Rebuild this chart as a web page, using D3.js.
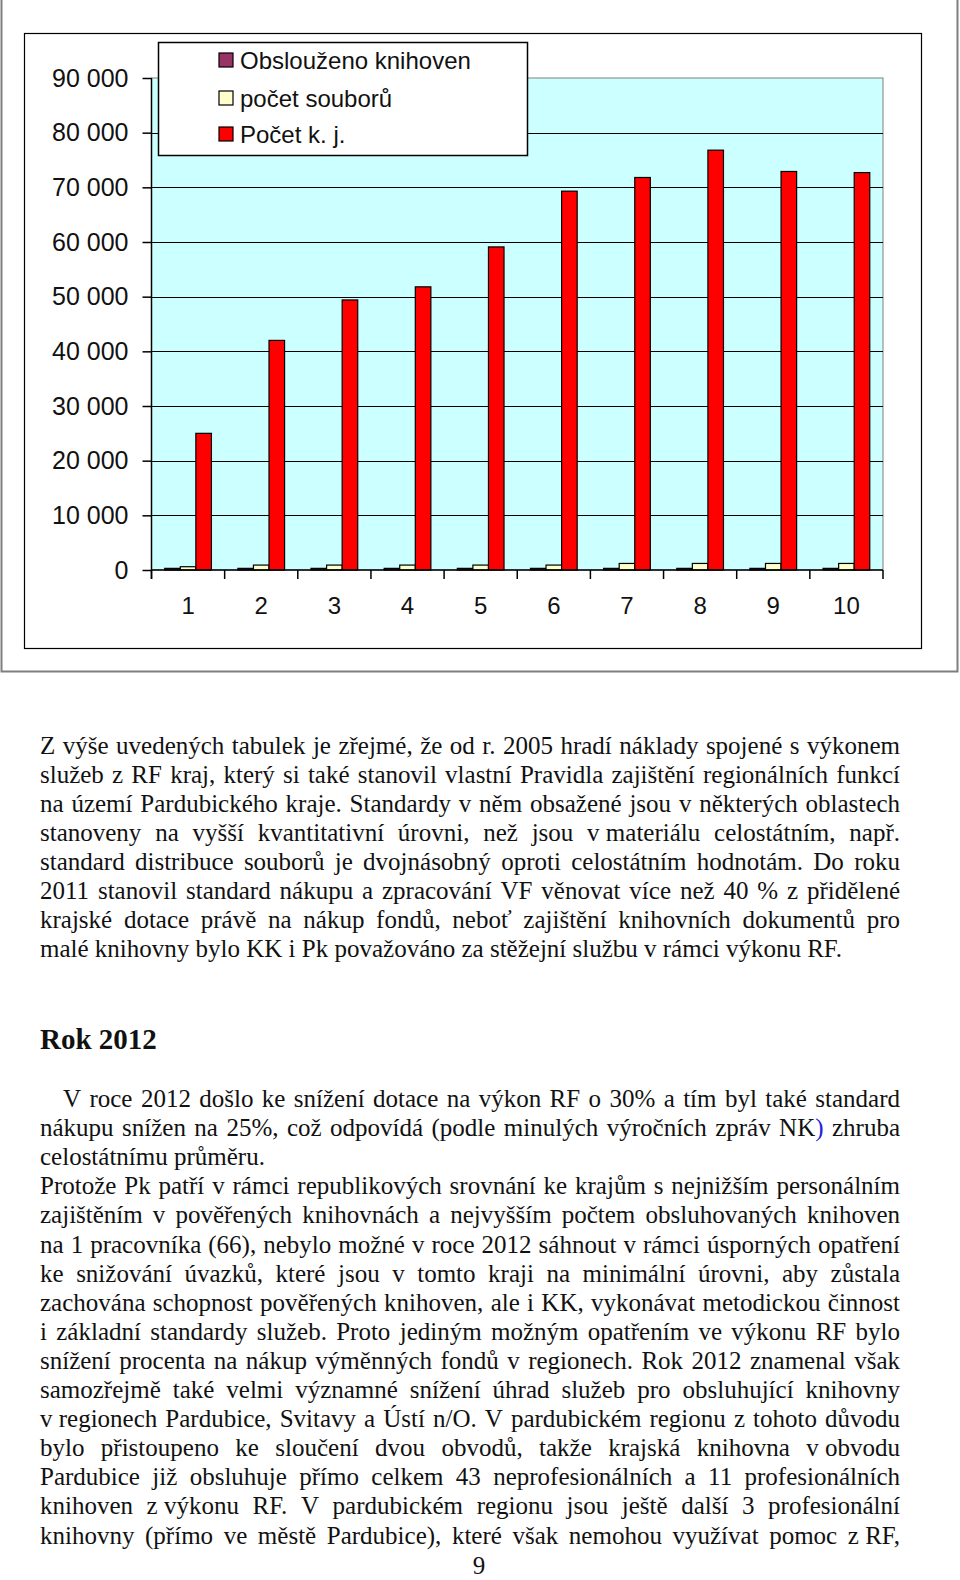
<!DOCTYPE html>
<html><head><meta charset="utf-8">
<script src="https://cdn.jsdelivr.net/npm/d3@7"></script>
<style>body{margin:0;background:#fff}svg{display:block}</style>
</head><body>
<svg id="page" width="960" height="1580"></svg>
<script>
// ---------- DATA ----------
const categories = ["1","2","3","4","5","6","7","8","9","10"];
const seriesNames = ["Obslouženo knihoven","počet souborů","Počet k. j."];
const seriesColors = ["#993366","#FFFFCC","#FF0000"];
const obslouzenoKnihoven = [300,300,300,300,300,300,300,300,300,300];
const pocetSouboru = [600,900,900,900,900,900,1200,1200,1200,1200];
const pocetKJ = [25000,42000,49400,51800,59100,69300,71800,76800,72900,72700];
const yTicks = [0,10000,20000,30000,40000,50000,60000,70000,80000,90000];

const para1 = [
 "Z výše uvedených tabulek je zřejmé, že od r. 2005 hradí náklady spojené s výkonem",
 "služeb z RF kraj, který si také stanovil vlastní Pravidla zajištění regionálních funkcí",
 "na území Pardubického kraje. Standardy v něm obsažené jsou v některých oblastech",
 "stanoveny na vyšší kvantitativní úrovni, než jsou v\u00A0materiálu celostátním, např.",
 "standard distribuce souborů je dvojnásobný oproti celostátním hodnotám. Do roku",
 "2011 stanovil standard nákupu a zpracování VF věnovat více než 40 % z přidělené",
 "krajské dotace právě na nákup fondů, neboť zajištění knihovních dokumentů pro",
 "malé knihovny bylo KK i Pk považováno za stěžejní službu v rámci výkonu RF."
];
const heading = "Rok 2012";
const para2 = [
 "V roce 2012 došlo ke snížení dotace na výkon RF o 30% a tím byl také standard",
 "nákupu snížen na 25%, což odpovídá (podle minulých výročních zpráv NK) zhruba",
 "celostátnímu průměru.",
 "Protože Pk patří v rámci republikových srovnání ke krajům s nejnižším personálním",
 "zajištěním v pověřených knihovnách a nejvyšším počtem obsluhovaných knihoven",
 "na 1 pracovníka (66), nebylo možné v roce 2012 sáhnout v rámci úsporných opatření",
 "ke snižování úvazků, které jsou v tomto kraji na minimální úrovni, aby zůstala",
 "zachována schopnost pověřených knihoven, ale i KK, vykonávat metodickou činnost",
 "i základní standardy služeb. Proto jediným možným opatřením ve výkonu RF bylo",
 "snížení procenta na nákup výměnných fondů v regionech. Rok 2012 znamenal však",
 "samozřejmě také velmi významné snížení úhrad služeb pro obsluhující knihovny",
 "v\u00A0regionech Pardubice, Svitavy a Ústí n/O. V pardubickém regionu z tohoto důvodu",
 "bylo přistoupeno ke sloučení dvou obvodů, takže krajská knihovna v\u00A0obvodu",
 "Pardubice již obsluhuje přímo celkem 43 neprofesionálních a 11 profesionálních",
 "knihoven z\u00A0výkonu RF. V pardubickém regionu jsou ještě další 3 profesionální",
 "knihovny (přímo ve městě Pardubice), které však nemohou využívat pomoc z\u00A0RF,"
];
const para1Last = [7];
const para2Last = [2];
const pageNumber = "9";

// ---------- CHART ----------
const svg = d3.select("#page");
const sans = "'Liberation Sans', Arial, sans-serif";
const serif = "'Liberation Serif', 'Times New Roman', serif";

// outer frame
svg.append("path").attr("d","M1.5,0 V671.5 H957.5 V0")
  .attr("fill","none").attr("stroke","#7f7f7f").attr("stroke-width",2);
// chart area
svg.append("rect").attr("x",24.5).attr("y",33.5).attr("width",897).attr("height",615)
  .attr("fill","#fff").attr("stroke","#000").attr("stroke-width",1.2);

const plot = {l:151.5, r:883, t:78, b:570};
const x = d3.scaleBand().domain(categories).range([plot.l, plot.r]).padding(0);
const xs = d3.scaleBand().domain(seriesNames).range([0, x.bandwidth()]).paddingInner(0).paddingOuter(0.85);
const y = d3.scaleLinear().domain([0, 90000]).range([plot.b, plot.t]);

svg.append("rect").attr("x",plot.l).attr("y",plot.t).attr("width",plot.r-plot.l).attr("height",plot.b-plot.t)
  .attr("fill","#CCFFFF").attr("stroke","#808080").attr("stroke-width",1);

// gridlines
svg.append("g").selectAll("line").data(yTicks.filter(d=>d>0 && d<90000)).join("line")
  .attr("x1",plot.l).attr("x2",plot.r).attr("y1",d=>Math.round(y(d))+0.5).attr("y2",d=>Math.round(y(d))+0.5)
  .attr("stroke","#000").attr("stroke-width",1);

// bars
const seriesData = [obslouzenoKnihoven, pocetSouboru, pocetKJ];
seriesNames.forEach((s, si) => {
  svg.append("g").selectAll("rect").data(categories).join("rect")
    .attr("x", (c)=> x(c) + xs(s))
    .attr("width", xs.bandwidth())
    .attr("y", (c,i)=> y(seriesData[si][i]))
    .attr("height", (c,i)=> plot.b - y(seriesData[si][i]))
    .attr("fill", seriesColors[si]).attr("stroke","#000").attr("stroke-width",1.2);
});

// y axis
const fmt = v => d3.format(",")(v).replace(/,/g, " ");
const yAxis = svg.append("g").attr("transform",`translate(${plot.l},0)`)
  .call(d3.axisLeft(y).tickValues(yTicks).tickSize(9).tickPadding(14).tickFormat(fmt));
yAxis.select(".domain").remove();
yAxis.selectAll(".tick line").attr("stroke","#000").attr("stroke-width",1.5);
yAxis.selectAll("text").attr("font-family",sans).attr("font-size",25).attr("fill","#111");
svg.append("line").attr("x1",plot.l).attr("x2",plot.l).attr("y1",plot.t).attr("y2",plot.b+9)
  .attr("stroke","#000").attr("stroke-width",1.5);

// x axis
const xAxis = svg.append("g").attr("transform",`translate(0,${plot.b})`)
  .call(d3.axisBottom(x).tickSize(0).tickPadding(27));
xAxis.select(".domain").remove();
xAxis.selectAll("text").attr("font-family",sans).attr("font-size",24).attr("fill","#111");
svg.append("line").attr("x1",plot.l).attr("x2",plot.r).attr("y1",plot.b).attr("y2",plot.b)
  .attr("stroke","#000").attr("stroke-width",1.5);
const bounds = categories.map(c=>x(c)).concat([x(categories[categories.length-1])+x.step()]);
svg.append("g").selectAll("line").data(bounds).join("line")
  .attr("x1",d=>d).attr("x2",d=>d).attr("y1",plot.b).attr("y2",plot.b+9)
  .attr("stroke","#000").attr("stroke-width",1.5);

// legend
const lg = svg.append("g");
lg.append("rect").attr("x",158.5).attr("y",42.5).attr("width",369).attr("height",113)
  .attr("fill","#fff").attr("stroke","#000").attr("stroke-width",1.5);
const legendRows = [60, 98, 134];
seriesNames.forEach((s,i)=>{
  lg.append("rect").attr("x",219).attr("y",legendRows[i]-7).attr("width",14).attr("height",14)
    .attr("fill",seriesColors[i]).attr("stroke","#000").attr("stroke-width",1.2);
  lg.append("text").attr("x",240).attr("y",legendRows[i]+8.5).text(s)
    .attr("font-family",sans).attr("font-size",24).attr("fill","#111");
});

// ---------- TEXT ----------
const tg = svg.append("g").attr("font-family",serif).attr("font-size",25).attr("fill","#111");
const TL = 40, TR = 900;
function measure(str){
  const t = tg.append("text").text(str);
  const w = t.node().getComputedTextLength(); t.remove(); return w;
}
function token(g, tok, xx, yy){
  const t = g.append("text").attr("x",xx).attr("y",yy);
  if (tok === "NK)") { t.append("tspan").text("NK"); t.append("tspan").attr("fill","#2222dd").text(")"); }
  else t.text(tok);
}
function line(str, yy, justify, indent){
  const x0 = TL + (indent||0);
  if (!justify) { tg.append("text").attr("x",x0).attr("y",yy).text(str); return; }
  const toks = str.split(" ").filter(s=>s.length);
  const ws = toks.map(measure);
  const sum = d3.sum(ws);
  const gap = (TR - x0 - sum)/(toks.length-1);
  let cx = x0;
  toks.forEach((tk,i)=>{ token(tg, tk, cx, yy); cx += ws[i] + gap; });
}
const p1Base = 753.5, lh = 29.1;
para1.forEach((s,i)=> line(s, p1Base + i*lh, !para1Last.includes(i), 0));
tg.append("text").attr("x",TL).attr("y",1049).attr("font-weight","bold").attr("font-size",29).text(heading);
const p2Base = 1107;
para2.forEach((s,i)=> line(s, p2Base + i*lh, !para2Last.includes(i), i===0 ? 23 : 0));
tg.append("text").attr("x",479).attr("y",1574).attr("text-anchor","middle").text(pageNumber);
</script>
</body></html>
